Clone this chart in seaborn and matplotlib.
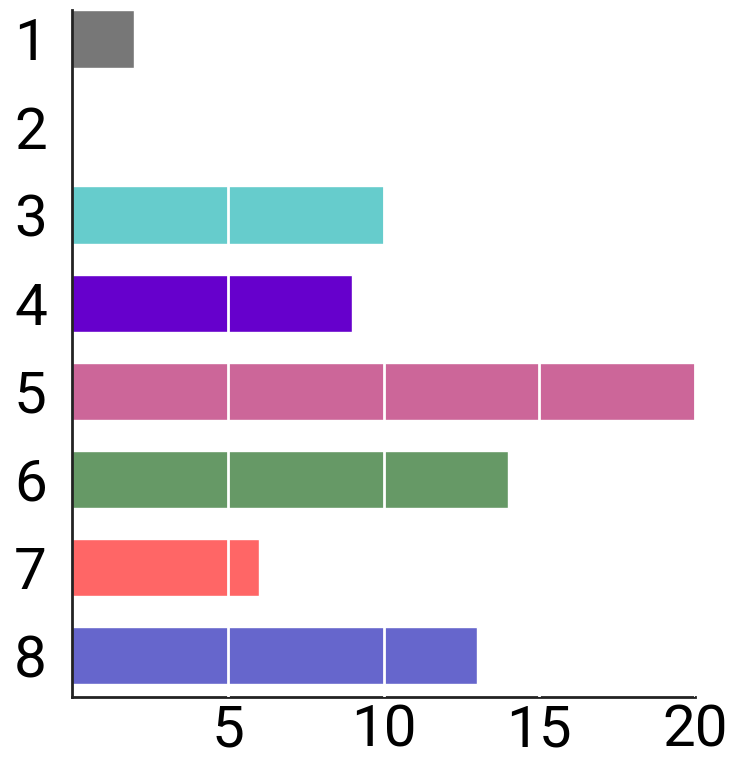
import pandas as pd
import matplotlib
matplotlib.use("Agg")
import matplotlib.pyplot as plt
import seaborn as sns

categories = ["1", "2", "3", "4", "5", "6", "7", "8"]
values = [2, 0, 10, 9, 20, 14, 6, 13]
bar_colors = ["#777777", "#cccccc", "#66cccc", "#6600cc",
              "#cc6699", "#669966", "#ff6666", "#6666cc"]
x_ticks = [5, 10, 15, 20]

df = pd.DataFrame({"cat": categories, "value": values})

sns.set_style("white")
plt.rcParams["font.family"] = ["Roboto", "DejaVu Sans"]

fig = plt.figure(figsize=(7.34, 7.6), dpi=100)
ax = fig.add_axes([0.098, 0.083, 0.849, 0.904])

sns.barplot(data=df, x="value", y="cat", hue="cat", palette=bar_colors,
            orient="h", width=0.65, legend=False, saturation=1, ax=ax)

ax.set_xlim(0, 20)
ax.set_ylim(7.47, -0.33)
ax.set_xticks(x_ticks)
ax.set_xlabel("")
ax.set_ylabel("")
ax.tick_params(axis="both", length=0, labelsize=42, colors="black")
ax.tick_params(axis="y", pad=18)
ax.tick_params(axis="x", pad=5)

# white grid lines drawn over the bars
ax.set_axisbelow(False)
ax.grid(axis="x", color="white", linewidth=2)
ax.grid(axis="y", visible=False)

for side in ["top", "right"]:
    ax.spines[side].set_visible(False)
for side in ["left", "bottom"]:
    ax.spines[side].set_color("#222222")
    ax.spines[side].set_linewidth(2)
    ax.spines[side].set_zorder(2)

fig.savefig("out.png", dpi=100)
